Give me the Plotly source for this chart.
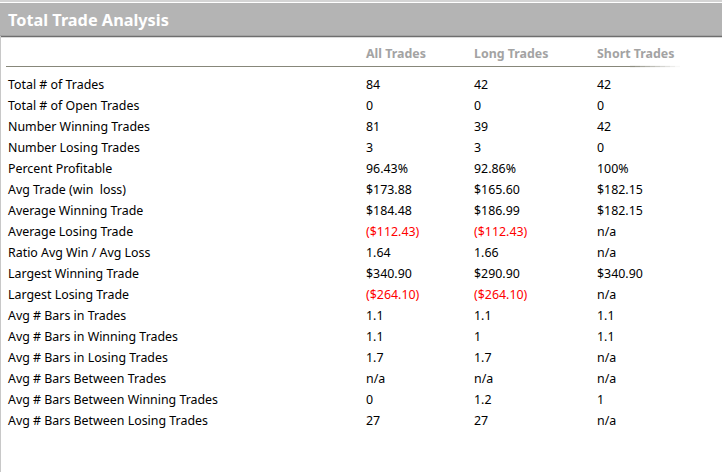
import plotly.graph_objects as go

# table content
title = "Total Trade Analysis"
columns = ["All Trades", "Long Trades", "Short Trades"]
row_labels = [
    "Total # of Trades",
    "Total # of Open Trades",
    "Number Winning Trades",
    "Number Losing Trades",
    "Percent Profitable",
    "Avg Trade (win  loss)",
    "Average Winning Trade",
    "Average Losing Trade",
    "Ratio Avg Win / Avg Loss",
    "Largest Winning Trade",
    "Largest Losing Trade",
    "Avg # Bars in Trades",
    "Avg # Bars in Winning Trades",
    "Avg # Bars in Losing Trades",
    "Avg # Bars Between Trades",
    "Avg # Bars Between Winning Trades",
    "Avg # Bars Between Losing Trades",
]
all_trades = ["84", "0", "81", "3", "96.43%", "$173.88", "$184.48", "($112.43)", "1.64",
              "$340.90", "($264.10)", "1.1", "1.1", "1.7", "n/a", "0", "27"]
long_trades = ["42", "0", "39", "3", "92.86%", "$165.60", "$186.99", "($112.43)", "1.66",
               "$290.90", "($264.10)", "1.1", "1", "1.7", "n/a", "1.2", "27"]
short_trades = ["42", "0", "42", "0", "100%", "$182.15", "$182.15", "n/a", "n/a",
                "$340.90", "n/a", "1.1", "1.1", "n/a", "n/a", "1", "n/a"]

# layout / style
W, H = 722, 472
FONT = "Noto Sans"
BODY_SIZE = 12.4
LABEL_X = 8
COL_X = [366, 474, 597]
ROW0_PX, ROW_STEP = 84, 21
HEADER_PX = 53
TITLE_PX = 20
TEXT_DY = 2  # vertical nudge of text so it sits where the reference has it


def px_to_row(p):
    return (p - ROW0_PX) / ROW_STEP


def val_color(v):
    return "#ff0000" if v.startswith("(") else "#000000"


rows = [i + TEXT_DY / ROW_STEP for i in range(len(row_labels))]
fig = go.Figure()

# row labels
fig.add_trace(go.Scatter(
    x=[LABEL_X] * len(rows), y=rows, text=row_labels, mode="text",
    textposition="middle right", textfont=dict(family=FONT, size=BODY_SIZE, color="#000000"),
    hoverinfo="skip", showlegend=False,
))

# value columns
for cx, vals in zip(COL_X, [all_trades, long_trades, short_trades]):
    fig.add_trace(go.Scatter(
        x=[cx] * len(vals), y=rows, text=vals, mode="text",
        textposition="middle right",
        textfont=dict(family=FONT, size=BODY_SIZE, color=[val_color(v) for v in vals]),
        hoverinfo="skip", showlegend=False,
    ))

# column headers
fig.add_trace(go.Scatter(
    x=COL_X, y=[px_to_row(HEADER_PX + TEXT_DY)] * len(columns),
    text=["<b>%s</b>" % c for c in columns],
    mode="text", textposition="middle right",
    textfont=dict(family=FONT, size=12.4, color="#a3a3a3"),
    hoverinfo="skip", showlegend=False,
))

# title
fig.add_trace(go.Scatter(
    x=[LABEL_X], y=[px_to_row(TITLE_PX + TEXT_DY)], text=["<b>%s</b>" % title], mode="text",
    textposition="middle right", textfont=dict(family=FONT, size=16.3, color="#ffffff"),
    hoverinfo="skip", showlegend=False,
))

shapes = [
    # top thin line
    dict(type="rect", xref="x", yref="y", x0=0, x1=W, y0=px_to_row(0), y1=px_to_row(2),
         fillcolor="#d4d4d4", line_width=0, layer="below"),
    # header band
    dict(type="rect", xref="x", yref="y", x0=0, x1=W, y0=px_to_row(3), y1=px_to_row(36),
         fillcolor="#b4b4b4", line_width=0, layer="below"),
    dict(type="line", xref="x", yref="y", x0=0, x1=W, y0=px_to_row(36.5), y1=px_to_row(36.5),
         line=dict(color="#6e6e6e", width=1.5)),
    # left border
    dict(type="line", xref="x", yref="y", x0=0.5, x1=0.5, y0=px_to_row(36), y1=px_to_row(H),
         line=dict(color="#c8c8c8", width=1)),
]

# header underline with fade on the right
shapes.append(dict(type="line", xref="x", yref="y", x0=6, x1=630,
                   y0=px_to_row(66.5), y1=px_to_row(66.5),
                   line=dict(color="#87877a", width=1.2)))
n_fade = 10
for i in range(n_fade):
    x0 = 630 + i * 5
    shapes.append(dict(type="line", xref="x", yref="y", x0=x0, x1=x0 + 5,
                       y0=px_to_row(66.5), y1=px_to_row(66.5),
                       line=dict(color="#87877a", width=1.2), opacity=1 - (i + 0.5) / n_fade))

fig.update_layout(
    width=W, height=H,
    margin=dict(l=0, r=0, t=0, b=0),
    paper_bgcolor="#ffffff", plot_bgcolor="#ffffff",
    xaxis=dict(range=[0, W], visible=False, fixedrange=True),
    yaxis=dict(range=[px_to_row(H), px_to_row(0)], visible=False, fixedrange=True),
    shapes=shapes,
)

# page has a default body margin; remove it so the figure fills the window
fig.write_html("out.html", config={"displayModeBar": False},
               post_script="document.body.style.margin='0';")
